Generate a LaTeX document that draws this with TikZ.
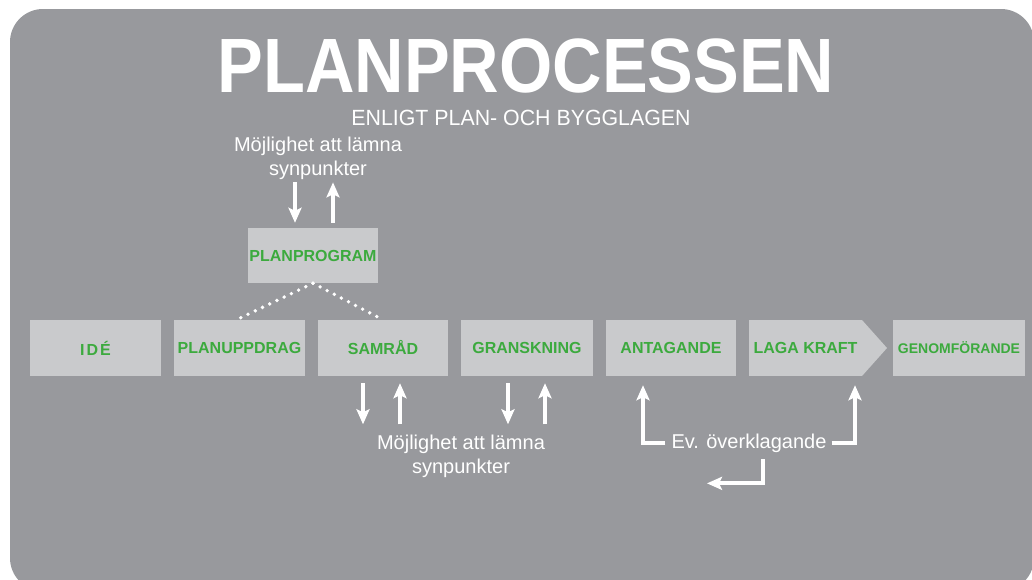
\documentclass[tikz,border=0pt]{standalone}
\usepackage{fontspec}
\setmainfont{Liberation Sans}
\usetikzlibrary{arrows.meta,calc}
\definecolor{bg}{HTML}{98999D}
\definecolor{boxc}{HTML}{C9CACC}
\definecolor{grn}{HTML}{3CAA3E}
\begin{document}
\begin{tikzpicture}[x=1pt,y=-1pt,
  stage/.style={fill=boxc, minimum width=131pt, minimum height=56pt, inner sep=0pt, text=grn, font=\fontsize{16}{19}\selectfont\bfseries},
  note/.style={text=white, inner sep=0pt, align=center, font=\fontsize{20}{24}\selectfont},
  arr/.style={draw=white, line width=3.8pt, -{Stealth[length=15pt,width=13pt,inset=3pt]}},
  dotline/.style={draw=white, line width=3.8pt, dash pattern=on 0pt off 8pt, line cap=round}]
\fill[white] (0,0) rectangle (1032,579);
\useasboundingbox (0,0) rectangle (1032,579);
\begin{scope}
\clip (0,0) rectangle (1032,579);
\fill[bg, rounded corners=33pt] (10,9) rectangle (1034,591);
\end{scope}
% titles
\node[anchor=base, text=white, inner sep=0pt, font=\fontsize{77}{90}\selectfont\bfseries] (title) at (526,92) {\scalebox{0.89}[1]{PLANPROCESSEN}};
\node[anchor=base, text=white, inner sep=0pt, font=\fontsize{22}{26}\selectfont] (sub) at (521,125) {\scalebox{0.97}[1]{ENLIGT PLAN- OCH BYGGLAGEN}};
% stages
\node[stage] (ide) at (95.5,348) {I\kern2ptD\kern2ptÉ};
\node[stage] (pu) at (239.5,348) {PLANUPPDRAG};
\node[stage, minimum width=130pt] (sam) at (383,348) {SAMRÅD};
\node[stage, minimum width=132pt] (gr) at (527,348) {GRANSKNING};
\node[stage, minimum width=130pt] (anta) at (671,348) {ANTAGANDE};
\fill[boxc] (862,320) -- (887,348) -- (862,376) -- cycle;
\node[stage, minimum width=113pt] (laga) at (805.5,348) {LAGA KRAFT};
\node[stage, minimum width=132pt, font=\fontsize{14}{17}\selectfont\bfseries] (gen) at (959,348) {GENOMFÖRANDE};
\node[stage, minimum width=130pt, minimum height=55pt] (prog) at (313,255.5) {PLANPROGRAM};
% dotted
\draw[dotline] (prog.south) -- ($(pu.north)+(-3,0)$);
\draw[dotline] (prog.south) -- (sam.north);
% notes
\node[note, anchor=north] (txt1) at (318,137.3) {Möjlighet att lämna\\synpunkter};
\node[note, anchor=north] (txt2) at (461,434.3) {Möjlighet att lämna\\synpunkter};
\node[anchor=base, text=white, inner sep=0pt, font=\fontsize{20}{24}\selectfont] (ev) at (749,448) {Ev. överklagande};
% arrows top
\draw[arr] ($(txt1.south)+(-23,2)$) -- ($(prog.north)+(-18,-5)$);
\draw[arr] ($(prog.north)+(20,-5)$) -- ($(txt1.south)+(15,2)$);
% arrows bottom
\draw[arr] ($(sam.south)+(-20,7)$) -- ($(txt2.north)+(-98,-10)$);
\draw[arr] ($(txt2.north)+(-61,-10)$) -- ($(sam.south)+(17,7)$);
\draw[arr] ($(gr.south)+(-19,7)$) -- ($(txt2.north)+(47,-10)$);
\draw[arr] ($(txt2.north)+(84,-10)$) -- ($(gr.south)+(18,7)$);
% appeal
\draw[arr] ($(ev.west)+(-6,0)$) -| ($(anta.south)+(-28,9)$);
\draw[arr] ($(ev.east)+(5,0)$) -| ($(laga.south)+(49.5,9)$);
\draw[arr] ($(ev.south)+(14,7)$) -- ++(0,24) -- ++(-56,0);
\end{tikzpicture}
\end{document}
